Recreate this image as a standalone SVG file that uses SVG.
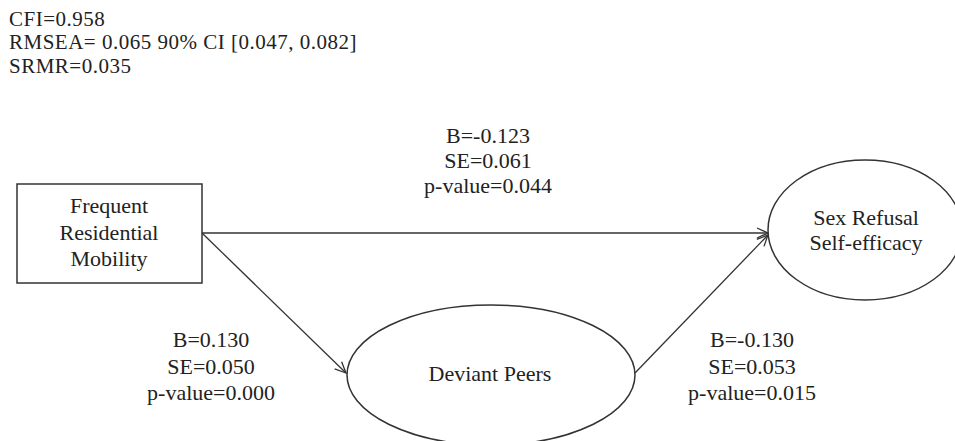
<svg xmlns="http://www.w3.org/2000/svg" width="955" height="441" viewBox="0 0 955 441">
<defs>
<style>
text{font-family:"Liberation Serif","Times New Roman","DejaVu Serif",serif;font-size:22px;fill:#222}
.c{text-anchor:middle}
.fit{font-size:21px;letter-spacing:0.5px}
.shape{fill:#fff;stroke:#333;stroke-width:1.5}
.edge{fill:none;stroke:#333;stroke-width:1.3}
</style>
<marker id="arr" markerWidth="14" markerHeight="12" refX="12" refY="6" orient="auto" markerUnits="userSpaceOnUse">
<path d="M1,1 L12,6 L1,11" fill="none" stroke="#333" stroke-width="1.3"/>
</marker>
</defs>
<rect width="955" height="441" fill="#fff"/>
<g id="fit">
<text class="fit" x="9" y="25.5">CFI=0.958</text>
<text class="fit" x="9" y="49">RMSEA= 0.065 90% CI [0.047, 0.082]</text>
<text class="fit" x="9" y="72.5">SRMR=0.035</text>
</g>
<g id="connectors">
<line class="edge" x1="202" y1="233" x2="768" y2="233" marker-end="url(#arr)"/>
<line class="edge" x1="202" y1="233" x2="346" y2="373" marker-end="url(#arr)"/>
<line class="edge" x1="635" y1="373" x2="768" y2="235" marker-end="url(#arr)"/>
</g>
<g id="node-frm">
<rect class="shape" x="17" y="184" width="185" height="99"/>
<text class="c" x="109" y="213">Frequent</text>
<text class="c" x="109" y="240">Residential</text>
<text class="c" x="109" y="266">Mobility</text>
</g>
<g id="node-srse">
<ellipse class="shape" cx="865" cy="230" rx="97" ry="70"/>
<text class="c" x="866" y="225">Sex Refusal</text>
<text class="c" x="866" y="250">Self-efficacy</text>
</g>
<g id="node-dp">
<ellipse class="shape" cx="491" cy="375" rx="144" ry="70"/>
<text class="c" x="490" y="381">Deviant Peers</text>
</g>
<g id="label-direct">
<text class="c" x="488" y="143">B=-0.123</text>
<text class="c" x="488" y="168">SE=0.061</text>
<text class="c" x="488" y="193">p-value=0.044</text>
</g>
<g id="label-a">
<text class="c" x="211" y="347">B=0.130</text>
<text class="c" x="211" y="374">SE=0.050</text>
<text class="c" x="211" y="400">p-value=0.000</text>
</g>
<g id="label-b">
<text class="c" x="752" y="347">B=-0.130</text>
<text class="c" x="752" y="374">SE=0.053</text>
<text class="c" x="752" y="400">p-value=0.015</text>
</g>
</svg>
